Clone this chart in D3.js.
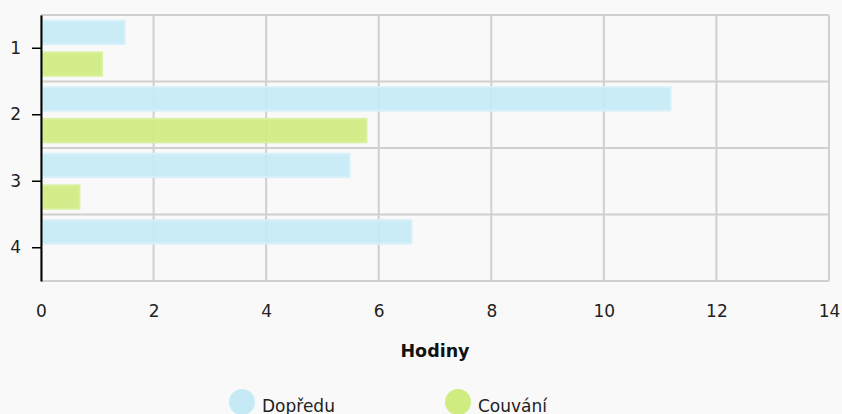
<!DOCTYPE html>
<html>
<head>
<meta charset="utf-8">
<script src="https://cdn.jsdelivr.net/npm/d3@7"></script>
<style>
	html, body { margin: 0; padding: 0; background: #f9f9f9; }
	svg { display: block; font-family: "DejaVu Sans", Verdana, sans-serif; }
</style>
</head>
<body>
<div id="chart"></div>
<script>
var categories = ["1", "2", "3", "4"];
var seriesNames = ["Dopředu", "Couvání"];
var forward = [1.5, 11.2, 5.5, 6.6];
var reverse = [1.1, 5.8, 0.7, 0];
var xTicks = [0, 2, 4, 6, 8, 10, 12, 14];
var xTitle = "Hodiny";

var colors = ["#c6eaf5", "#ceec80"];
var borders = ["#d6f0f9", "#d9f09c"];

var width = 842, height = 414;
var margin = {top: 15, right: 13, bottom: 133, left: 41};

var svg = d3.select("#chart").append("svg")
	.attr("width", width)
	.attr("height", height);

var x = d3.scaleLinear()
	.domain([0, 14])
	.range([margin.left, width - margin.right]);

var y = d3.scaleBand()
	.domain(categories)
	.range([margin.top, height - margin.bottom]);

var inner = d3.scaleBand()
	.domain([0, 1])
	.range([0, y.bandwidth()])
	.paddingInner(0.2)
	.paddingOuter(0.15);

// grid
var grid = svg.append("g").attr("class", "grid");
grid.selectAll("line.v")
	.data(xTicks)
	.enter().append("line")
		.attr("class", "v")
		.attr("x1", function(d) { return x(d); })
		.attr("x2", function(d) { return x(d); })
		.attr("y1", margin.top)
		.attr("y2", height - margin.bottom)
		.attr("stroke", "#d0d0d0")
		.attr("stroke-width", 2);

var hLines = categories.map(function(c) { return y(c); }).concat([height - margin.bottom]);
grid.selectAll("line.h")
	.data(hLines)
	.enter().append("line")
		.attr("class", "h")
		.attr("x1", margin.left)
		.attr("x2", width - margin.right)
		.attr("y1", function(d) { return d; })
		.attr("y2", function(d) { return d; })
		.attr("stroke", "#d0d0d0")
		.attr("stroke-width", 2);

// bars
var rows = categories.map(function(c, i) {
	return {cat: c, values: [forward[i], reverse[i]]};
});

var group = svg.append("g").attr("class", "bars")
	.selectAll("g")
	.data(rows)
	.enter().append("g")
		.attr("transform", function(d) { return "translate(0," + y(d.cat) + ")"; });

group.selectAll("rect")
	.data(function(d) { return d.values.map(function(v, k) { return {v: v, k: k}; }); })
	.enter().filter(function(d) { return d.v > 0; }).append("rect")
		.attr("x", x(0) + 1)
		.attr("y", function(d) { return inner(d.k) + 1; })
		.attr("width", function(d) { return x(d.v) - x(0) - 2; })
		.attr("height", inner.bandwidth() - 2)
		.attr("fill", function(d) { return colors[d.k]; })
		.attr("fill-opacity", 0.92)
		.attr("stroke", function(d) { return borders[d.k]; })
		.attr("stroke-width", 2);

// y axis
var yAxis = svg.append("g")
	.attr("transform", "translate(" + margin.left + ",0)")
	.call(d3.axisLeft(y).tickSize(9).tickSizeOuter(0).tickPadding(11));
yAxis.select(".domain").attr("stroke", "#000").attr("stroke-width", 2);
yAxis.selectAll(".tick line").attr("stroke", "#000").attr("stroke-width", 1.5);
yAxis.selectAll("text")
	.attr("font-size", 17)
	.attr("font-family", "DejaVu Sans, sans-serif")
	.attr("fill", "#222");

// x labels
var xAxis = svg.append("g")
	.attr("transform", "translate(0," + (height - margin.bottom) + ")")
	.call(d3.axisBottom(x).tickValues(xTicks).tickSize(0).tickPadding(24));
xAxis.select(".domain").remove();
xAxis.selectAll("text")
	.attr("font-size", 17)
	.attr("font-family", "DejaVu Sans, sans-serif")
	.attr("fill", "#222");

svg.append("text")
	.attr("x", 435)
	.attr("y", 357)
	.attr("text-anchor", "middle")
	.attr("font-size", 17.5)
	.attr("font-weight", "bold")
	.attr("fill", "#111")
	.text(xTitle);

// legend
var legendX = [242, 458];
var legend = svg.append("g").attr("class", "legend")
	.selectAll("g")
	.data(seriesNames)
	.enter().append("g")
		.attr("transform", function(d, i) { return "translate(" + legendX[i] + ",402)"; });

legend.append("circle")
	.attr("r", 13)
	.attr("fill", function(d, i) { return colors[i]; });

legend.append("text")
	.attr("x", 20)
	.attr("y", 9.5)
	.attr("font-size", 17)
	.attr("fill", "#222")
	.text(function(d) { return d; });
</script>
</body>
</html>
